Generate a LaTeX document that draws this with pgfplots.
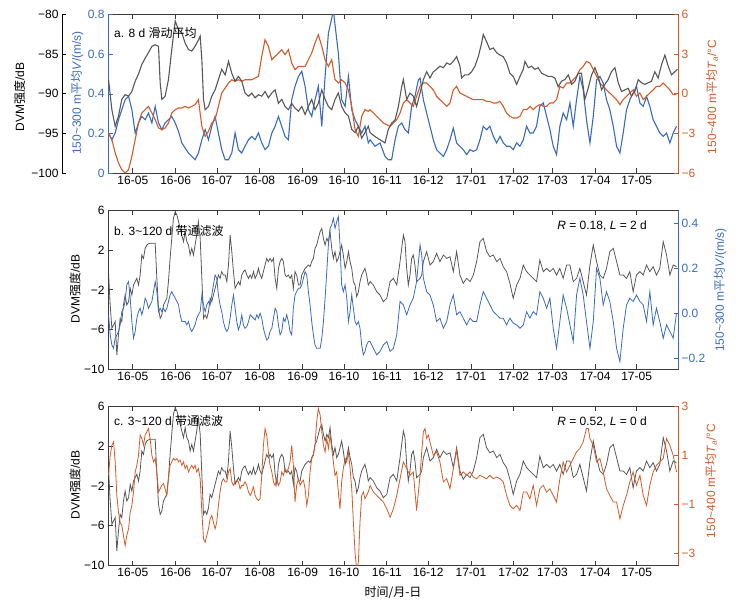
\documentclass[border=0pt]{standalone}
\usepackage{pgfplots}
\pgfplotsset{compat=1.18}
\usepackage{fontspec}
\setmainfont{Liberation Sans}
\newfontfamily\cjk{Noto Sans CJK SC}
\definecolor{cblue}{RGB}{58,107,190}
\definecolor{corange}{RGB}{212,90,40}
\definecolor{cgray}{RGB}{88,88,88}
\definecolor{cax}{RGB}{60,60,60}
\pgfplotsset{
  base/.style={scale only axis, width=570pt, height=158.3pt, xmin=-18, xmax=395,
    anchor=south west, tick align=inside, major tick length=4.5pt,
    xtick={0,31,61,92,123,153,184,214,245,276,304,335,365},
    every tick label/.append style={font=\fontsize{12}{14}\selectfont}},
  frame/.style={base, axis line style={color=cax, line width=0.7pt},
    xtick style={color=cax, line width=0.7pt}, xtick pos=both, xticklabel pos=lower,
    xticklabels={16-05,16-06,16-07,16-08,16-09,16-10,16-11,16-12,17-01,17-02,17-03,17-04,17-05},
    ytick style={color=cax, line width=0.7pt}, ytick pos=left},
  lefty/.style={base, axis x line=none, axis y line*=left, xticklabels={}},
  righty/.style={base, axis x line=none, axis y line*=right, xticklabels={}},
}
\begin{document}
\begin{tikzpicture}
\path[use as bounding box] (0,0) rectangle (737pt,606pt);
% ================= Panel a =================
\begin{axis}[frame, at={(108pt,433pt)}, ymin=-100, ymax=-80, ytick=\empty]
\addplot[draw=none] coordinates {(0,-90)};
\end{axis}
\draw[cax, line width=0.7pt] (108pt,433pt) rectangle (678pt,591.3pt);
\begin{axis}[lefty, at={(108pt,433pt)}, ymin=0, ymax=0.8,
  ytick={0,0.2,0.4,0.6,0.8}, yticklabels={0,0.2,0.4,0.6,0.8},
  y axis line style={color=cblue, line width=0.7pt}, ytick style={color=cblue, line width=0.7pt}, yticklabel style={text=cblue}]
\addplot[cblue, line width=1.1pt] coordinates {
(-17.6,0.202)(-15.2,0.168)(-12.8,0.202)(-10.4,0.269)(-8.0,0.320)(-5.6,0.370)(-3.1,0.387)(-0.7,0.320)(1.7,0.202)(4.1,0.253)(6.5,0.286)(8.9,0.269)(11.3,0.303)(13.8,0.253)(16.2,0.337)(18.6,0.253)(21.0,0.219)(23.4,0.253)(25.8,0.269)(28.2,0.286)(30.7,0.253)(33.1,0.210)(35.5,0.152)(37.9,0.126)(40.3,0.101)(42.7,0.084)(45.1,0.067)(47.5,0.101)(50.0,0.168)(52.4,0.219)(54.8,0.168)(57.2,0.236)(59.6,0.286)(62.0,0.202)(64.4,0.118)(66.9,0.067)(69.3,0.067)(71.7,0.101)(74.1,0.202)(76.5,0.118)(78.9,0.101)(81.3,0.135)(83.8,0.168)(86.2,0.185)(88.6,0.168)(91.0,0.202)(93.4,0.152)(95.8,0.118)(98.2,0.135)(100.7,0.202)(103.1,0.236)(105.5,0.286)(107.9,0.236)(110.3,0.185)(112.7,0.168)(115.1,0.370)(117.5,0.438)(120.0,0.488)(122.4,0.514)(124.8,0.438)(127.2,0.320)(129.6,0.286)(132.0,0.370)(134.4,0.438)(136.9,0.236)(139.3,0.488)(141.7,0.707)(145.3,0.82)(148.9,0.606)(151.3,0.370)(153.8,0.337)(156.2,0.488)(158.6,0.320)(161.0,0.269)(163.4,0.236)(165.8,0.202)(168.2,0.236)(170.6,0.152)
(171.9,0.168)(175.5,0.135)(179.1,0.152)(182.7,0.084)(185.1,0.067)(187.5,0.067)(190.0,0.168)(192.4,0.236)(194.8,0.253)(197.2,0.219)(199.6,0.202)(202.0,0.337)(204.4,0.387)(206.9,0.471)(208.1,0.480)(210.5,0.370)(212.9,0.303)(215.3,0.236)(217.7,0.168)(220.1,0.118)(222.5,0.101)(225.0,0.084)(227.4,0.118)(229.8,0.168)(232.2,0.227)(234.6,0.152)(237.0,0.135)(239.4,0.118)(241.9,0.093)(244.3,0.118)(246.7,0.109)(249.1,0.118)(251.5,0.168)(253.9,0.236)(256.3,0.219)(258.7,0.236)(261.2,0.185)(263.6,0.152)(266.0,0.185)(268.4,0.152)(270.8,0.135)(273.2,0.135)(275.6,0.118)(278.1,0.152)(280.5,0.135)(282.9,0.168)(285.3,0.236)(287.7,0.202)(290.1,0.202)(292.5,0.236)(294.9,0.337)(297.4,0.354)(299.8,0.286)(302.2,0.219)(304.6,0.135)(307.0,0.093)(309.4,0.236)(311.8,0.303)(314.3,0.269)(316.7,0.354)(319.1,0.236)(321.5,0.370)(323.9,0.488)(326.3,0.421)(328.7,0.269)(331.2,0.152)(333.6,0.286)(336.0,0.471)(338.4,0.488)(340.8,0.455)(343.2,0.370)(345.6,0.320)(348.1,0.236)(350.5,0.135)(352.9,0.101)(355.3,0.202)(357.7,0.320)(360.1,0.370)(362.5,0.404)(364.9,0.438)(367.4,0.354)(369.8,0.337)(372.2,0.387)(374.6,0.337)(377.0,0.269)(379.4,0.236)(381.8,0.202)(384.3,0.185)(386.7,0.202)(389.1,0.152)(391.5,0.202)(393.9,0.236)};
\end{axis}
\begin{axis}[righty, at={(108pt,433pt)}, ymin=-6, ymax=6,
  ytick={-6,-3,0,3,6}, yticklabels={−6,−3,0,3,6},
  y axis line style={color=corange, line width=0.7pt}, ytick style={color=corange, line width=0.7pt}, yticklabel style={text=corange}]
\addplot[corange, line width=1.1pt] coordinates {
(-17.6,-2.97)(-15.2,-3.47)(-12.8,-4.48)(-10.4,-5.24)(-8.0,-5.75)(-5.6,-6.0)(-3.1,-5.75)(-0.7,-4.74)(1.7,-3.47)(4.1,-2.21)(6.5,-1.45)(8.9,-1.20)(11.3,-0.95)(13.8,-1.45)(16.2,-1.96)(18.6,-2.59)(21.0,-2.71)(23.4,-2.59)(25.8,-2.21)(28.2,-1.45)(30.7,-1.20)(33.1,-1.07)(35.5,-1.07)(37.9,-0.95)(40.3,-1.07)(42.7,-0.95)(45.1,-0.82)(47.5,-0.44)(50.0,-2.46)(52.4,-3.22)(54.8,-2.84)(57.2,-2.21)(59.6,-1.96)(62.0,-0.95)(64.4,0.06)(66.9,0.44)(69.3,0.82)(71.7,1.07)(74.1,0.95)(76.5,1.07)(78.9,0.95)(81.3,1.07)(83.8,1.07)(86.2,1.07)(88.6,1.20)(91.0,1.33)(93.4,2.84)(95.8,4.11)(98.2,3.60)(100.7,2.59)(103.1,2.84)(105.5,3.09)(107.9,3.35)(110.3,2.97)(112.7,3.35)(115.1,2.34)(117.5,1.83)(120.0,2.08)(122.4,2.08)(124.8,2.08)(127.2,2.59)(129.6,3.09)(132.0,3.85)(134.4,4.48)(136.9,3.60)(139.3,2.59)(141.7,2.08)(144.1,2.59)(146.5,1.07)(148.9,0.82)(151.3,1.07)(153.8,0.82)(156.2,0.30)(158.6,-0.95)(161.0,-2.71)(163.4,-3.22)(165.8,-1.70)(168.2,-1.20)(170.6,-1.33)
(171.9,-1.20)(174.3,-1.45)(176.7,-1.70)(179.1,-1.96)(181.5,-2.21)(184.0,-2.34)(186.4,-2.46)(188.8,-2.21)(191.2,-1.96)(193.6,-1.45)(196.0,-0.69)(198.4,-0.44)(200.8,-0.69)(203.2,-0.95)(205.6,-0.19)(208.1,0.57)(210.5,0.82)(212.9,0.82)(215.3,0.57)(217.7,0.30)(220.1,-0.19)(222.5,-0.44)(225.0,-0.69)(227.4,-0.95)(229.8,-0.69)(232.2,0.30)(234.6,0.57)(237.0,0.06)(239.4,-0.06)(241.9,-0.19)(244.3,-0.32)(246.7,-0.44)(249.1,-0.44)(251.5,-0.44)(253.9,-0.44)(256.3,-0.57)(258.7,-0.57)(261.2,-0.69)(263.6,-0.69)(266.0,-0.57)(268.4,-0.95)(270.8,-1.45)(273.2,-1.70)(275.6,-1.83)(278.1,-1.83)(280.5,-1.70)(282.9,-1.20)(285.3,-1.20)(287.7,-0.95)(290.1,-1.20)(292.5,-0.95)(294.9,-0.82)(297.4,-0.95)(299.8,-0.95)(302.2,-0.69)(304.6,-0.69)(307.0,-0.44)(309.4,0.57)(311.8,0.44)(314.3,0.82)(316.7,0.82)(319.1,1.07)(321.5,1.33)(323.9,1.83)(326.3,2.08)(328.7,2.46)(331.2,2.34)(333.6,1.83)(336.0,1.33)(338.4,0.82)(340.8,0.57)(343.2,0.30)(345.6,0.06)(348.1,-0.19)(350.5,-0.44)(352.9,-0.82)(355.3,-0.44)(357.7,-0.19)(360.1,0.06)(362.5,0.30)(364.9,-0.19)(367.4,0.06)(369.8,-0.44)(372.2,-0.19)(374.6,0.06)(377.0,0.30)(379.4,0.57)(381.8,0.57)(384.3,0.82)(386.7,0.57)(389.1,0.30)(391.5,-0.06)(393.9,-0.06)};
\end{axis}
\begin{axis}[base, hide axis, at={(108pt,433pt)}, ymin=-100, ymax=-80]
\addplot[cgray, line width=1.1pt] coordinates {
(-17.6,-88.2)(-15.2,-92.0)(-12.8,-94.1)(-10.4,-92.8)(-8.0,-90.7)(-5.6,-90.1)(-3.1,-90.3)(-0.7,-89.7)(1.7,-88.4)(4.1,-87.5)(6.5,-86.3)(8.9,-85.5)(11.3,-84.8)(13.8,-84.0)(16.2,-83.8)(18.6,-84.0)(19.8,-88.6)(21.0,-90.7)(23.4,-90.3)(25.8,-88.2)(28.2,-84.4)(30.7,-80.8)(33.1,-81.9)(35.5,-82.3)(37.9,-83.6)(40.3,-84.4)(42.7,-84.6)(45.1,-84.0)(47.5,-83.2)(48.8,-82.7)(50.0,-85.7)(51.2,-90.7)(52.4,-92.0)(54.8,-91.6)(57.2,-90.3)(59.6,-89.5)(62.0,-88.2)(64.4,-86.9)(66.9,-87.6)(69.3,-85.9)(71.7,-87.4)(74.1,-88.4)(76.5,-87.8)(78.9,-88.4)(81.3,-89.9)(83.8,-90.3)(86.2,-89.9)(88.6,-90.5)(91.0,-90.1)(93.4,-90.3)(95.8,-89.7)(98.2,-90.5)(100.7,-89.9)(103.1,-89.5)(105.5,-91.2)(107.9,-90.7)(110.3,-91.6)(112.7,-92.0)(115.1,-91.2)(117.5,-91.8)(120.0,-92.2)(122.4,-91.6)(124.8,-92.6)(127.2,-91.6)(129.6,-90.7)(132.0,-92.0)(134.4,-91.2)(136.9,-89.5)(139.3,-90.7)(141.7,-91.6)(144.1,-92.0)(146.5,-90.7)(148.9,-89.9)(151.3,-91.6)(153.8,-92.4)(156.2,-92.8)(158.6,-94.5)(161.0,-94.9)(163.4,-94.1)(165.8,-95.6)(168.2,-94.9)(170.6,-94.1)(171.9,-94.9)(175.5,-95.4)(179.1,-95.8)(182.7,-96.2)(185.1,-94.5)(187.5,-93.7)(190.0,-93.3)(192.4,-91.6)(194.8,-89.1)(196.0,-88.2)(198.4,-90.7)(200.8,-89.9)(203.2,-90.3)(205.6,-91.6)(208.1,-89.9)(210.5,-88.2)(212.9,-87.2)(215.3,-88.0)(217.7,-87.2)(220.1,-86.9)(222.5,-86.5)(225.0,-86.7)(227.4,-86.1)(229.8,-86.3)(232.2,-85.9)(234.6,-85.3)(237.0,-86.5)(238.2,-88.0)(240.6,-87.6)(243.0,-87.6)(245.5,-87.2)(247.9,-86.5)(250.3,-85.3)(252.7,-83.6)(253.9,-82.5)(256.3,-83.4)(258.7,-84.4)(261.2,-84.2)(263.6,-84.8)(266.0,-85.1)(268.4,-85.3)(270.8,-86.1)(273.2,-87.4)(275.6,-87.8)(278.1,-88.8)(280.5,-87.8)(282.9,-86.9)(284.1,-85.9)(286.5,-86.7)(288.9,-86.5)(291.3,-86.9)(293.7,-86.7)(296.2,-87.4)(298.6,-87.6)(301.0,-87.8)(303.4,-87.8)(305.8,-88.0)(308.2,-89.1)(310.6,-88.4)(313.0,-88.2)(315.5,-87.6)(317.9,-88.8)(320.3,-88.4)(322.7,-87.4)(325.1,-87.4)(327.5,-90.7)(329.9,-89.3)(332.4,-87.6)(334.8,-86.7)(337.2,-87.8)(339.6,-89.5)(342.0,-88.8)(344.4,-88.2)(346.8,-87.2)(349.3,-86.7)(351.7,-88.6)(354.1,-89.7)(356.5,-89.5)(358.9,-89.3)(361.3,-90.3)(363.7,-89.7)(366.2,-88.2)(368.6,-88.6)(371.0,-88.8)(373.4,-88.6)(375.8,-88.4)(378.2,-87.2)(380.6,-88.0)(383.1,-86.3)(385.5,-85.1)(387.9,-86.5)(390.3,-87.6)(392.7,-87.2)(394.6,-86.9)};
\end{axis}
\begin{axis}[scale only axis, width=1pt, height=158.3pt, at={(62pt,433pt)}, anchor=south west,
  axis x line=none, axis y line*=left, xmin=0, xmax=1, ymin=-100, ymax=-80,
  tick align=inside, major tick length=4.5pt,
  ytick={-100,-95,-90,-85,-80}, yticklabels={−100,−95,−90,−85,−80},
  every tick label/.append style={font=\fontsize{12}{14}\selectfont},
  y axis line style={color=black, line width=0.7pt}, ytick style={color=black, line width=0.7pt}]
\addplot[draw=none] coordinates {(0.5,-90)};
\end{axis}
% ================= Panel b =================
\begin{axis}[frame, at={(108pt,237pt)}, ymin=-10, ymax=6,
  ytick={-10,-6,-2,2,6}, yticklabels={−10,−6,−2,2,6}]
\addplot[cgray, line width=0.8pt] coordinates {
(-17.6,-0.33)(-16.4,-3.53)(-15.2,-5.89)(-14.0,-5.55)(-12.8,-5.22)(-11.6,-8.58)(-10.4,-6.56)(-9.2,-4.88)(-8.0,-5.22)(-6.8,-3.53)(-5.6,-2.52)(-4.4,-3.53)(-3.1,-3.19)(-1.9,-1.85)(-0.7,-2.52)(0.5,-1.51)(1.7,-1.17)(2.9,-0.84)(4.1,-1.51)(5.3,-0.50)(6.5,1.52)(7.7,1.18)(8.9,2.19)(10.1,2.53)(11.3,2.65)(12.5,2.70)(13.8,2.70)(15.0,2.70)(16.2,2.70)(17.4,-0.84)(18.6,-3.87)(19.8,-4.88)(21.0,-4.54)(22.2,-3.53)(23.4,-3.19)(24.6,-2.86)(25.8,-1.17)(27.0,1.18)(28.2,3.20)(29.4,5.23)(30.7,5.90)(31.9,5.56)(33.1,4.89)(34.3,4.21)(35.5,3.54)(36.7,2.87)(37.9,3.88)(39.1,2.87)(40.3,2.53)(41.5,1.52)(42.7,2.19)(43.9,1.52)(45.1,2.53)(46.3,3.54)(47.5,4.89)(48.8,3.20)(50.0,-0.84)(51.2,-4.88)(52.4,-4.54)(53.6,-4.88)(54.8,-4.21)(56.0,-2.86)(57.2,-3.19)(58.4,-2.52)(59.6,-1.85)(60.8,-1.17)(62.0,-0.50)(63.2,-0.84)(64.4,-0.16)(65.6,-0.50)(66.9,-0.50)(68.1,-1.17)(69.3,0.51)(70.5,3.54)(71.7,1.86)(72.9,-0.16)(74.1,-1.85)(75.3,-1.51)(76.5,-1.17)(77.7,-1.51)(78.9,-0.50)(80.1,-0.16)(81.3,0.01)(82.6,-0.50)(83.8,-0.84)(85.0,-0.50)(86.2,-0.84)(87.4,-0.16)(88.6,-0.84)(89.8,-0.50)(91.0,0.17)(92.2,-0.50)(93.4,-0.84)(94.6,-0.16)(95.8,0.51)(97.0,1.18)(98.2,0.85)(99.4,1.18)(100.7,0.85)(101.9,1.18)(103.1,-0.84)(104.3,-1.85)(105.5,0.17)(106.7,0.85)(107.9,1.18)(109.1,0.85)(110.3,-0.50)(111.5,-0.67)(112.7,-0.50)(113.9,-0.84)(115.1,-0.50)(116.3,-1.85)(117.5,-0.16)(118.7,-0.50)(120.0,-1.51)(121.2,-1.51)(122.4,-0.50)(123.6,-0.16)(124.8,0.17)(126.0,0.34)(127.2,0.51)(128.4,0.34)(129.6,0.85)(130.8,1.18)(132.0,2.19)(133.2,2.53)(134.4,3.20)(135.7,3.88)(136.9,4.21)(138.1,3.20)(139.3,2.53)(140.5,3.20)(141.7,2.87)(142.9,3.88)(144.1,2.19)(145.3,1.18)(146.5,1.86)(147.7,0.85)(148.9,1.18)(150.1,1.86)(151.3,2.53)(152.5,1.52)(153.8,0.17)(155.0,0.85)(156.2,1.86)(157.4,0.85)(158.6,0.17)(159.8,-1.17)(161.0,-1.51)(162.2,-2.69)(163.4,-2.19)(164.6,-1.17)(165.8,-0.50)(167.0,-0.16)(168.2,0.17)(169.4,-0.50)(170.6,-1.51)
(171.9,-1.17)(174.3,-1.51)(176.7,-2.19)(179.1,-2.52)(181.5,-3.19)(184.0,-2.86)(186.4,-1.17)(188.8,-0.84)(191.2,-1.51)(193.6,0.85)(196.0,3.54)(197.2,2.87)(198.4,0.17)(199.6,-1.51)(200.8,-0.50)(202.0,1.18)(203.2,1.52)(204.4,0.51)(205.6,-1.17)(208.1,-0.84)(209.3,-0.50)(210.5,0.85)(212.9,1.86)(215.3,0.51)(217.7,0.85)(220.1,1.69)(222.5,0.85)(225.0,1.52)(227.4,1.18)(229.8,1.35)(232.2,-0.16)(234.6,1.86)(237.0,-0.50)(239.4,-1.34)(241.9,-0.84)(244.3,-1.17)(246.7,-0.50)(249.1,0.85)(251.5,2.87)(253.9,3.20)(256.3,1.86)(258.7,1.35)(261.2,1.52)(263.6,0.85)(266.0,1.18)(268.4,0.34)(270.8,-0.16)(273.2,-1.34)(275.6,-2.86)(278.1,-1.51)(280.5,-0.84)(282.9,0.51)(285.3,-0.16)(287.7,-0.50)(290.1,-0.84)(292.5,-1.17)(294.9,1.01)(297.4,-0.16)(299.8,0.17)(302.2,-0.16)(304.6,0.17)(307.0,-0.50)(309.4,0.17)(311.8,-0.84)(314.3,0.51)(316.7,0.51)(319.1,-1.17)(321.5,-0.84)(323.9,0.17)(326.3,-1.17)(328.7,-2.52)(331.2,0.51)(333.6,2.53)(336.0,0.85)(338.4,-0.50)(340.8,-0.84)(343.2,0.17)(345.6,1.86)(348.1,2.19)(350.5,0.85)(352.9,-0.50)(355.3,-0.50)(357.7,-0.84)(360.1,-0.16)(362.5,-2.19)(364.9,-0.50)(367.4,-0.16)(369.8,-0.50)(372.2,0.51)(374.6,-0.16)(377.0,0.34)(379.4,-0.50)(381.8,0.17)(384.3,2.87)(386.7,1.52)(389.1,-0.50)(391.5,0.51)(393.9,0.34)};
\end{axis}
\draw[cax, line width=0.7pt] (108pt,237pt) rectangle (678pt,395.3pt);
\begin{axis}[righty, at={(108pt,237pt)}, ymin=-0.248, ymax=0.456,
  ytick={-0.2,0,0.2,0.4}, yticklabels={−0.2,0.0,0.2,0.4},
  y axis line style={color=cblue, line width=0.7pt}, ytick style={color=cblue, line width=0.7pt}, yticklabel style={text=cblue}]
\addplot[cblue, line width=0.8pt] coordinates {
(-17.6,-0.007)(-16.4,-0.096)(-15.2,-0.141)(-14.0,-0.156)(-12.8,-0.111)(-11.6,-0.096)(-10.4,-0.081)(-9.2,-0.052)(-8.0,0.007)(-6.8,0.022)(-5.6,0.052)(-4.4,0.126)(-3.1,0.141)(-1.9,0.067)(-0.7,-0.037)(0.5,-0.111)(1.7,-0.081)(2.9,-0.022)(4.1,0.007)(5.3,0.022)(6.5,-0.007)(7.7,0.022)(8.9,0.067)(10.1,0.052)(11.3,0.022)(12.5,0.037)(13.8,0.052)(15.0,0.096)(16.2,0.141)(17.4,0.096)(18.6,0.007)(19.8,0.022)(21.0,0.007)(22.2,0.022)(23.4,0.007)(24.6,0.022)(25.8,0.052)(27.0,0.081)(28.2,0.096)(29.4,0.081)(30.7,0.067)(31.9,0.052)(33.1,0.037)(34.3,-0.007)(35.5,-0.037)(36.7,-0.037)(37.9,-0.037)(39.1,-0.052)(40.3,-0.037)(41.5,-0.067)(42.7,-0.081)(43.9,-0.067)(45.1,-0.052)(46.3,-0.022)(47.5,-0.007)(48.8,0.007)(50.0,0.081)(51.2,0.037)(52.4,0.007)(53.6,0.037)(54.8,0.052)(56.0,0.037)(57.2,0.081)(58.4,0.126)(59.6,0.170)(60.8,0.156)(62.0,0.081)(63.2,0.037)(64.4,0.007)(65.6,-0.037)(66.9,-0.067)(68.1,-0.081)(69.3,-0.067)(70.5,-0.022)(71.7,0.037)(72.9,0.081)(74.1,0.022)(75.3,-0.037)(76.5,-0.074)(77.7,-0.052)(78.9,-0.007)(80.1,-0.052)(81.3,-0.067)(82.6,-0.059)(83.8,-0.037)(85.0,-0.007)(86.2,-0.015)(87.4,-0.022)(88.6,-0.030)(89.8,-0.007)(91.0,-0.022)(92.2,0.000)(93.4,-0.022)(94.6,-0.067)(95.8,-0.096)(97.0,-0.119)(98.2,-0.111)(99.4,-0.081)(100.7,-0.067)(101.9,-0.022)(103.1,0.022)(104.3,0.007)(105.5,-0.052)(106.7,-0.096)(107.9,-0.081)(109.1,-0.022)(110.3,-0.037)(111.5,-0.007)(112.7,-0.037)(113.9,-0.081)(115.1,-0.096)(116.3,0.022)(117.5,0.081)(118.7,0.096)(120.0,0.111)(121.2,0.111)(122.4,0.126)(123.6,0.156)(124.8,0.185)(126.0,0.170)(127.2,0.096)(128.4,0.037)(129.6,-0.037)(130.8,-0.096)(132.0,-0.141)(133.2,-0.156)(134.4,-0.156)(135.7,-0.156)(136.9,-0.111)(138.1,-0.037)(139.3,0.067)(140.5,0.185)(141.7,0.304)(142.9,0.378)(144.1,0.393)(145.3,0.422)(146.5,0.378)(147.7,0.407)(148.9,0.430)(150.1,0.304)(151.3,0.126)(152.5,0.096)(153.8,0.126)(155.0,0.067)(156.2,-0.037)(157.4,0.007)(158.6,0.081)(159.8,0.022)(161.0,-0.037)(162.2,-0.052)(163.4,-0.037)(164.6,-0.067)(165.8,-0.141)(167.0,-0.185)(168.2,-0.170)(169.4,-0.141)(170.6,-0.126)
(171.9,-0.126)(174.3,-0.156)(176.7,-0.185)(179.1,-0.170)(181.5,-0.141)(184.0,-0.126)(186.4,-0.170)(188.8,-0.156)(191.2,-0.096)(193.6,0.052)(196.0,0.037)(198.4,-0.007)(200.8,0.037)(203.2,0.067)(205.6,0.141)(208.1,0.304)(209.3,0.259)(210.5,0.156)(212.9,0.096)(215.3,0.081)(217.7,0.037)(220.1,-0.037)(222.5,-0.022)(225.0,-0.067)(227.4,-0.037)(229.8,0.037)(232.2,0.081)(234.6,-0.007)(237.0,0.007)(239.4,-0.022)(241.9,-0.052)(244.3,-0.022)(246.7,-0.037)(249.1,-0.037)(251.5,0.037)(253.9,0.096)(256.3,0.067)(258.7,0.037)(261.2,0.007)(263.6,-0.007)(266.0,-0.022)(268.4,-0.022)(270.8,-0.052)(273.2,-0.022)(275.6,-0.044)(278.1,-0.052)(280.5,-0.067)(282.9,-0.052)(285.3,0.007)(287.7,-0.022)(290.1,0.007)(292.5,-0.007)(294.9,0.096)(297.4,0.067)(299.8,0.022)(302.2,0.067)(304.6,-0.067)(307.0,-0.156)(309.4,-0.037)(311.8,0.081)(314.3,0.022)(316.7,-0.052)(319.1,-0.126)(321.5,0.081)(323.9,0.156)(326.3,0.081)(328.7,-0.037)(331.2,-0.156)(333.6,-0.037)(336.0,0.200)(338.4,0.156)(340.8,0.037)(343.2,0.096)(345.6,0.052)(348.1,-0.037)(350.5,-0.156)(352.9,-0.215)(355.3,-0.067)(357.7,0.037)(360.1,0.067)(362.5,0.052)(364.9,0.081)(367.4,0.052)(369.8,0.037)(372.2,-0.037)(374.6,0.096)(377.0,-0.052)(379.4,0.022)(381.8,-0.037)(384.3,-0.111)(386.7,-0.052)(389.1,-0.081)(391.5,-0.111)(393.9,0.000)};
\end{axis}
% ================= Panel c =================
\begin{axis}[frame, at={(108pt,41pt)}, ymin=-10, ymax=6,
  ytick={-10,-6,-2,2,6}, yticklabels={−10,−6,−2,2,6}]
\addplot[cgray, line width=0.8pt] coordinates {
(-17.6,-0.33)(-16.4,-3.53)(-15.2,-5.89)(-14.0,-5.55)(-12.8,-5.22)(-11.6,-8.58)(-10.4,-6.56)(-9.2,-4.88)(-8.0,-5.22)(-6.8,-3.53)(-5.6,-2.52)(-4.4,-3.53)(-3.1,-3.19)(-1.9,-1.85)(-0.7,-2.52)(0.5,-1.51)(1.7,-1.17)(2.9,-0.84)(4.1,-1.51)(5.3,-0.50)(6.5,1.52)(7.7,1.18)(8.9,2.19)(10.1,2.53)(11.3,2.65)(12.5,2.70)(13.8,2.70)(15.0,2.70)(16.2,2.70)(17.4,-0.84)(18.6,-3.87)(19.8,-4.88)(21.0,-4.54)(22.2,-3.53)(23.4,-3.19)(24.6,-2.86)(25.8,-1.17)(27.0,1.18)(28.2,3.20)(29.4,5.23)(30.7,5.90)(31.9,5.56)(33.1,4.89)(34.3,4.21)(35.5,3.54)(36.7,2.87)(37.9,3.88)(39.1,2.87)(40.3,2.53)(41.5,1.52)(42.7,2.19)(43.9,1.52)(45.1,2.53)(46.3,3.54)(47.5,4.89)(48.8,3.20)(50.0,-0.84)(51.2,-4.88)(52.4,-4.54)(53.6,-4.88)(54.8,-4.21)(56.0,-2.86)(57.2,-3.19)(58.4,-2.52)(59.6,-1.85)(60.8,-1.17)(62.0,-0.50)(63.2,-0.84)(64.4,-0.16)(65.6,-0.50)(66.9,-0.50)(68.1,-1.17)(69.3,0.51)(70.5,3.54)(71.7,1.86)(72.9,-0.16)(74.1,-1.85)(75.3,-1.51)(76.5,-1.17)(77.7,-1.51)(78.9,-0.50)(80.1,-0.16)(81.3,0.01)(82.6,-0.50)(83.8,-0.84)(85.0,-0.50)(86.2,-0.84)(87.4,-0.16)(88.6,-0.84)(89.8,-0.50)(91.0,0.17)(92.2,-0.50)(93.4,-0.84)(94.6,-0.16)(95.8,0.51)(97.0,1.18)(98.2,0.85)(99.4,1.18)(100.7,0.85)(101.9,1.18)(103.1,-0.84)(104.3,-1.85)(105.5,0.17)(106.7,0.85)(107.9,1.18)(109.1,0.85)(110.3,-0.50)(111.5,-0.67)(112.7,-0.50)(113.9,-0.84)(115.1,-0.50)(116.3,-1.85)(117.5,-0.16)(118.7,-0.50)(120.0,-1.51)(121.2,-1.51)(122.4,-0.50)(123.6,-0.16)(124.8,0.17)(126.0,0.34)(127.2,0.51)(128.4,0.34)(129.6,0.85)(130.8,1.18)(132.0,2.19)(133.2,2.53)(134.4,3.20)(135.7,3.88)(136.9,4.21)(138.1,3.20)(139.3,2.53)(140.5,3.20)(141.7,2.87)(142.9,3.88)(144.1,2.19)(145.3,1.18)(146.5,1.86)(147.7,0.85)(148.9,1.18)(150.1,1.86)(151.3,2.53)(152.5,1.52)(153.8,0.17)(155.0,0.85)(156.2,1.86)(157.4,0.85)(158.6,0.17)(159.8,-1.17)(161.0,-1.51)(162.2,-2.69)(163.4,-2.19)(164.6,-1.17)(165.8,-0.50)(167.0,-0.16)(168.2,0.17)(169.4,-0.50)(170.6,-1.51)
(171.9,-1.17)(174.3,-1.51)(176.7,-2.19)(179.1,-2.52)(181.5,-3.19)(184.0,-2.86)(186.4,-1.17)(188.8,-0.84)(191.2,-1.51)(193.6,0.85)(196.0,3.54)(197.2,2.87)(198.4,0.17)(199.6,-1.51)(200.8,-0.50)(202.0,1.18)(203.2,1.52)(204.4,0.51)(205.6,-1.17)(208.1,-0.84)(209.3,-0.50)(210.5,0.85)(212.9,1.86)(215.3,0.51)(217.7,0.85)(220.1,1.69)(222.5,0.85)(225.0,1.52)(227.4,1.18)(229.8,1.35)(232.2,-0.16)(234.6,1.86)(237.0,-0.50)(239.4,-1.34)(241.9,-0.84)(244.3,-1.17)(246.7,-0.50)(249.1,0.85)(251.5,2.87)(253.9,3.20)(256.3,1.86)(258.7,1.35)(261.2,1.52)(263.6,0.85)(266.0,1.18)(268.4,0.34)(270.8,-0.16)(273.2,-1.34)(275.6,-2.86)(278.1,-1.51)(280.5,-0.84)(282.9,0.51)(285.3,-0.16)(287.7,-0.50)(290.1,-0.84)(292.5,-1.17)(294.9,1.01)(297.4,-0.16)(299.8,0.17)(302.2,-0.16)(304.6,0.17)(307.0,-0.50)(309.4,0.17)(311.8,-0.84)(314.3,0.51)(316.7,0.51)(319.1,-1.17)(321.5,-0.84)(323.9,0.17)(326.3,-1.17)(328.7,-2.52)(331.2,0.51)(333.6,2.53)(336.0,0.85)(338.4,-0.50)(340.8,-0.84)(343.2,0.17)(345.6,1.86)(348.1,2.19)(350.5,0.85)(352.9,-0.50)(355.3,-0.50)(357.7,-0.84)(360.1,-0.16)(362.5,-2.19)(364.9,-0.50)(367.4,-0.16)(369.8,-0.50)(372.2,0.51)(374.6,-0.16)(377.0,0.34)(379.4,-0.50)(381.8,0.17)(384.3,2.87)(386.7,1.52)(389.1,-0.50)(391.5,0.51)(393.9,0.34)};
\end{axis}
\draw[cax, line width=0.7pt] (108pt,41pt) rectangle (678pt,199.3pt);
\begin{axis}[righty, at={(108pt,41pt)}, ymin=-3.48, ymax=3,
  ytick={-3,-1,1,3}, yticklabels={−3,−1,1,3},
  y axis line style={color=corange, line width=0.7pt}, ytick style={color=corange, line width=0.7pt}, yticklabel style={text=corange}]
\addplot[corange, line width=0.8pt] coordinates {
(-17.6,0.19)(-16.4,1.01)(-15.2,1.42)(-14.0,1.56)(-12.8,0.74)(-11.6,-0.63)(-10.4,-1.32)(-9.2,-1.73)(-8.0,-1.86)(-6.8,-2.27)(-5.6,-2.69)(-4.4,-2.27)(-3.1,-2.00)(-1.9,-1.32)(-0.7,-1.04)(0.5,-0.49)(1.7,0.33)(2.9,0.60)(4.1,1.01)(5.3,1.84)(6.5,1.70)(7.7,1.42)(8.9,1.84)(10.1,1.97)(11.3,2.11)(12.5,1.70)(13.8,1.01)(15.0,0.74)(16.2,0.88)(17.4,0.33)(18.6,-0.49)(19.8,-0.36)(21.0,-0.22)(22.2,-0.15)(23.4,-0.36)(24.6,-0.63)(25.8,0.05)(27.0,0.60)(28.2,0.74)(29.4,0.88)(30.7,0.81)(31.9,0.88)(33.1,0.74)(34.3,0.81)(35.5,0.60)(36.7,0.74)(37.9,0.47)(39.1,0.60)(40.3,0.33)(41.5,0.47)(42.7,0.60)(43.9,0.47)(45.1,0.60)(46.3,0.33)(47.5,0.47)(48.8,0.05)(50.0,-1.32)(51.2,-2.41)(52.4,-2.55)(53.6,-2.27)(54.8,-2.00)(56.0,-1.59)(57.2,-1.45)(58.4,-1.73)(59.6,-2.00)(60.8,-1.73)(62.0,-1.04)(63.2,-0.49)(64.4,-0.08)(65.6,0.05)(66.9,-0.08)(68.1,-0.08)(69.3,0.33)(70.5,0.47)(71.7,-0.08)(72.9,-0.22)(74.1,-0.08)(75.3,-0.01)(76.5,-0.08)(77.7,-0.36)(78.9,-0.22)(80.1,-0.22)(81.3,-0.08)(82.6,-0.22)(83.8,-0.49)(85.0,-0.63)(86.2,-0.49)(87.4,-0.29)(88.6,-0.63)(89.8,-0.77)(91.0,-0.84)(92.2,-0.77)(93.4,0.19)(94.6,1.42)(95.8,2.11)(97.0,1.84)(98.2,1.15)(99.4,0.60)(100.7,0.33)(101.9,-0.08)(103.1,-0.22)(104.3,0.05)(105.5,-0.22)(106.7,-0.08)(107.9,0.33)(109.1,0.19)(110.3,0.47)(111.5,0.33)(112.7,0.47)(113.9,0.74)(115.1,1.42)(116.3,0.60)(117.5,-0.90)(118.7,-0.22)(120.0,0.05)(121.2,-0.22)(122.4,-0.08)(123.6,-0.01)(124.8,-0.36)(126.0,-1.04)(127.2,-0.63)(128.4,0.33)(129.6,0.88)(130.8,1.01)(132.0,1.42)(133.2,2.38)(134.4,2.93)(135.7,2.66)(136.9,1.97)(138.1,1.42)(139.3,1.15)(140.5,1.70)(141.7,1.29)(142.9,1.84)(144.1,1.29)(145.3,0.74)(146.5,0.19)(147.7,0.33)(148.9,-0.49)(150.1,-1.18)(151.3,-0.08)(152.5,0.47)(153.8,0.88)(155.0,0.74)(156.2,1.15)(157.4,0.47)(158.6,-0.36)(159.8,-1.73)(161.0,-2.96)(162.2,-3.70)(163.4,-3.37)(164.6,-1.73)(165.8,-0.63)(167.0,-0.49)(168.2,-0.77)(169.4,-0.63)(170.6,-0.49)
(171.9,-0.22)(174.3,-0.49)(176.7,-0.63)(179.1,-0.77)(181.5,-0.90)(184.0,-1.18)(186.4,-1.52)(188.8,-1.18)(191.2,-0.63)(193.6,0.05)(196.0,0.74)(198.4,0.47)(200.8,0.19)(203.2,0.33)(205.6,-1.25)(208.1,0.19)(209.3,1.15)(210.5,1.97)(211.7,2.11)(212.9,1.70)(214.1,1.84)(215.3,1.56)(217.7,1.01)(220.1,1.15)(222.5,0.74)(225.0,-0.08)(227.4,0.05)(229.8,-0.36)(232.2,0.47)(234.6,1.22)(237.0,0.19)(239.4,0.33)(241.9,0.19)(244.3,0.33)(246.7,0.12)(249.1,0.05)(251.5,0.19)(253.9,0.12)(256.3,0.05)(258.7,0.19)(261.2,0.05)(263.6,0.12)(266.0,0.05)(268.4,-0.08)(270.8,-0.63)(273.2,-1.04)(275.6,-1.18)(278.1,-1.04)(280.5,-1.25)(282.9,-0.49)(285.3,-0.49)(287.7,-0.77)(290.1,-0.22)(292.5,-1.04)(294.9,-0.36)(297.4,-0.22)(299.8,-0.49)(302.2,-0.36)(304.6,-0.63)(307.0,-0.90)(309.4,0.05)(311.8,0.74)(314.3,0.33)(316.7,0.60)(319.1,0.88)(321.5,1.15)(323.9,1.29)(326.3,1.56)(328.7,2.11)(330.0,2.11)(331.2,1.70)(333.6,1.42)(336.0,0.74)(338.4,0.88)(340.8,0.33)(343.2,-0.36)(345.6,-0.63)(348.1,-0.90)(350.5,-0.90)(352.9,-1.59)(355.3,-1.04)(357.7,-0.63)(360.1,-0.08)(362.5,0.33)(364.9,-0.22)(367.4,0.19)(369.8,-0.63)(372.2,-1.04)(374.6,-0.22)(377.0,0.33)(379.4,0.60)(381.8,0.74)(384.3,0.88)(386.7,1.70)(389.1,1.42)(391.5,1.01)(393.9,0.33)};
\end{axis}
% ================= Texts =================
\begin{scope}[every node/.style={font=\fontsize{12}{14}\selectfont, inner sep=0pt}]
\node[anchor=west] at (114pt,573pt) {a. 8 d {\cjk 滑动平均}};
\node[anchor=west] at (114pt,375.5pt) {b. 3\textasciitilde120 d {\cjk 带通滤波}};
\node[anchor=east] at (647pt,380.5pt) {\textit{R} = 0.18, \textit{L} = 2 d};
\node[anchor=west] at (114pt,185pt) {c. 3\textasciitilde120 d {\cjk 带通滤波}};
\node[anchor=east] at (647pt,184.5pt) {\textit{R} = 0.52, \textit{L} = 0 d};
\node at (393pt,13pt) {{\cjk 时间/月-日}};
\node[rotate=90] at (19.5pt,509pt) {DVM{\cjk 强度}/dB};
\node[rotate=90, text=cblue] at (77pt,513pt) {150\textasciitilde300 m{\cjk 平均}\textit{V}/(m/s)};
\node[rotate=90, text=corange] at (712pt,509pt) {150\textasciitilde400 m{\cjk 平均}\textit{T}\textsubscript{\textit{a}}/°C};
\node[rotate=90] at (75pt,317pt) {DVM{\cjk 强度}/dB};
\node[rotate=90, text=cblue] at (720pt,316pt) {150\textasciitilde300 m{\cjk 平均}\textit{V}/(m/s)};
\node[rotate=90] at (75pt,121pt) {DVM{\cjk 强度}/dB};
\node[rotate=90, text=corange] at (711pt,125pt) {150\textasciitilde400 m{\cjk 平均}\textit{T}\textsubscript{\textit{a}}/°C};
\end{scope}
\end{tikzpicture}
\end{document}
